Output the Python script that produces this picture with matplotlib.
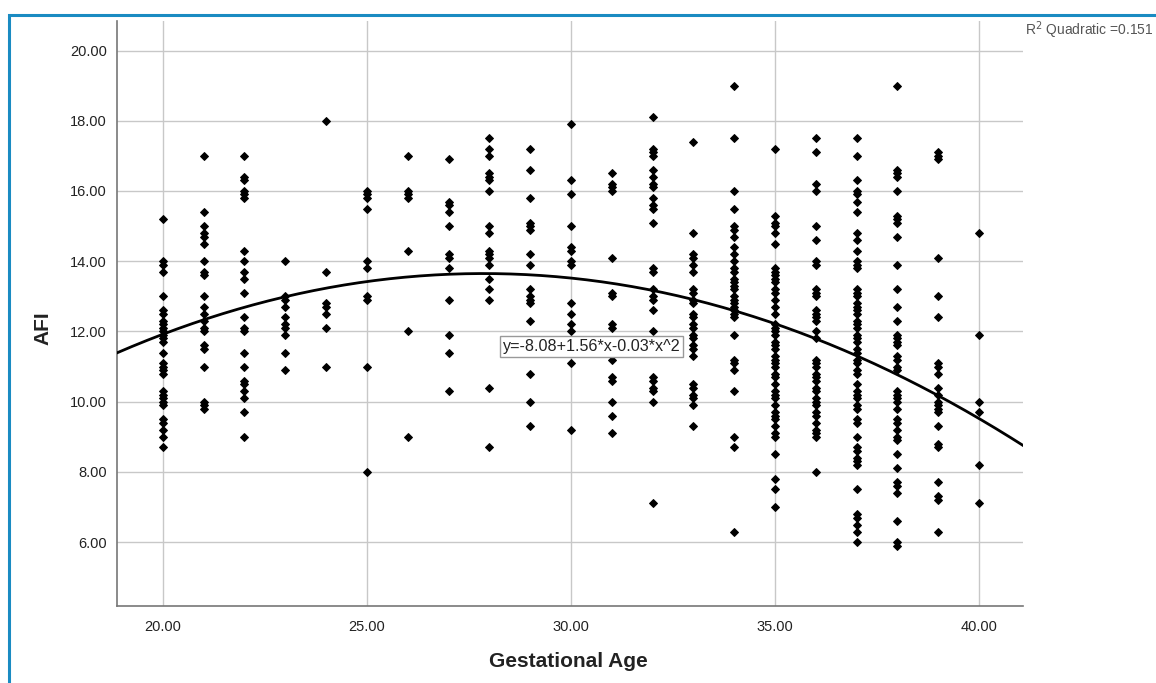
import matplotlib
matplotlib.use('Agg')
import matplotlib.pyplot as plt
import numpy as np
from matplotlib.patches import Rectangle

plt.rcParams['font.family'] = ['Liberation Sans', 'DejaVu Sans']

# AFI values per gestational age (weeks)
afi = {
    20: [15.2, 14.0, 13.9, 13.7, 13.0, 12.6, 12.5, 12.3, 12.2, 12.1, 12.0, 11.9, 11.8, 11.7, 11.4,
         11.1, 11.0, 10.9, 10.8, 10.3, 10.2, 10.1, 10.0, 9.9, 9.5, 9.4, 9.2, 9.0, 8.7],
    21: [17.0, 15.4, 15.0, 14.8, 14.7, 14.5, 14.0, 13.7, 13.6, 13.0, 12.7, 12.5, 12.3, 12.1, 12.0,
         11.6, 11.5, 11.0, 10.0, 9.9, 9.8],
    22: [17.0, 16.4, 16.3, 16.0, 15.9, 15.8, 14.3, 14.0, 13.7, 13.5, 13.1, 12.4, 12.1, 12.0, 11.4,
         11.0, 10.6, 10.5, 10.3, 10.1, 9.7, 9.0],
    23: [14.0, 13.0, 12.9, 12.7, 12.4, 12.2, 12.1, 11.9, 11.4, 10.9],
    24: [18.0, 13.7, 12.8, 12.7, 12.5, 12.1, 11.0],
    25: [16.0, 15.9, 15.8, 15.5, 14.0, 13.8, 13.0, 12.9, 11.0, 8.0],
    26: [17.0, 16.0, 15.9, 15.8, 14.3, 12.0, 9.0],
    27: [16.9, 15.7, 15.6, 15.4, 15.0, 14.2, 14.1, 13.8, 12.9, 11.9, 11.4, 10.3],
    28: [17.5, 17.2, 17.0, 16.5, 16.4, 16.3, 16.0, 15.0, 14.8, 14.3, 14.2, 14.1, 13.9, 13.5, 13.2,
         12.9, 10.4, 8.7],
    29: [17.2, 16.6, 15.8, 15.1, 15.0, 14.9, 14.2, 13.9, 13.2, 13.0, 12.9, 12.8, 12.3, 10.8, 10.0, 9.3],
    30: [17.9, 16.3, 15.9, 15.0, 14.4, 14.3, 14.0, 13.9, 12.8, 12.5, 12.2, 12.0, 11.1, 9.2],
    31: [16.5, 16.2, 16.1, 16.0, 14.1, 13.1, 13.0, 12.2, 12.1, 11.2, 10.7, 10.6, 10.0, 9.6, 9.1],
    32: [18.1, 17.2, 17.1, 17.0, 16.6, 16.4, 16.2, 16.1, 15.8, 15.6, 15.5, 15.1, 13.8, 13.7, 13.2,
         13.0, 12.9, 12.6, 12.0, 10.7, 10.6, 10.4, 10.3, 10.0, 7.1],
    33: [17.4, 14.8, 14.2, 14.1, 13.9, 13.7, 13.2, 13.1, 12.9, 12.8, 12.5, 12.4, 12.2, 12.1, 11.9,
         11.8, 11.6, 11.5, 11.3, 10.5, 10.4, 10.2, 10.1, 9.9, 9.3],
    34: [19.0, 17.5, 16.0, 15.5, 15.0, 14.9, 14.7, 14.4, 14.2, 14.0, 13.8, 13.7, 13.5, 13.4, 13.3,
         13.2, 13.0, 12.9, 12.8, 12.7, 12.6, 12.5, 12.4, 11.9, 11.2, 11.1, 10.9, 10.3, 9.0, 8.7, 6.3],
    35: [17.2, 15.3, 15.1, 15.0, 14.8, 14.5, 13.8, 13.7, 13.6, 13.5, 13.4, 13.2, 13.1, 12.9, 12.7,
         12.5, 12.2, 12.1, 12.0, 11.9, 11.7, 11.6, 11.5, 11.3, 11.2, 11.1, 11.0, 10.8, 10.7, 10.5,
         10.3, 10.2, 10.1, 9.9, 9.7, 9.6, 9.5, 9.3, 9.1, 9.0, 8.5, 7.8, 7.5, 7.0],
    36: [17.5, 17.1, 16.2, 16.0, 15.0, 14.6, 14.0, 13.9, 13.2, 13.1, 13.0, 12.6, 12.5, 12.4, 12.3,
         12.0, 11.8, 11.2, 11.1, 11.0, 10.8, 10.7, 10.6, 10.4, 10.3, 10.1, 10.0, 9.9, 9.7, 9.6,
         9.4, 9.2, 9.1, 9.0, 8.0],
    37: [17.5, 17.0, 16.3, 16.0, 15.9, 15.7, 15.4, 14.8, 14.6, 14.3, 14.0, 13.9, 13.8, 13.2, 13.1,
         13.0, 12.8, 12.7, 12.6, 12.5, 12.3, 12.2, 12.1, 11.9, 11.8, 11.7, 11.5, 11.4, 11.2, 11.1,
         10.9, 10.8, 10.5, 10.3, 10.2, 10.1, 9.9, 9.8, 9.5, 9.4, 9.0, 8.7, 8.6, 8.4, 8.3, 8.2,
         7.5, 6.8, 6.7, 6.5, 6.3, 6.0],
    38: [19.0, 16.6, 16.5, 16.4, 16.0, 15.3, 15.2, 15.1, 14.7, 13.9, 13.2, 12.7, 12.3, 11.9, 11.8,
         11.7, 11.6, 11.3, 11.2, 11.0, 10.9, 10.3, 10.2, 10.1, 10.0, 9.8, 9.5, 9.4, 9.2, 9.0, 8.9,
         8.5, 8.1, 7.7, 7.6, 7.4, 6.6, 6.0, 5.9],
    39: [17.1, 17.0, 16.9, 14.1, 13.0, 12.4, 11.1, 11.0, 10.8, 10.4, 10.2, 10.0, 9.9, 9.8, 9.7,
         9.3, 8.8, 8.7, 7.7, 7.3, 7.2, 6.3],
    40: [14.8, 11.9, 10.0, 9.7, 8.2, 7.1],
}

# quadratic fit (shown rounded in the label)
fit_coef = [-0.028, 1.56, -8.08]
fit_label = 'y=-8.08+1.56*x-0.03*x^2'
r2_text = 'R$^2$ Quadratic =0.151'

ga = np.concatenate([[k] * len(v) for k, v in afi.items()])
vals = np.concatenate([v for v in afi.values()])

fig = plt.figure(figsize=(11.56, 6.83), dpi=100)
ax = fig.add_axes([0.101, 0.1127, 0.784, 0.856])

xlim = (18.87, 41.08)
ylim = (4.18, 20.83)

ax.grid(True, color='#c8c8c8', linewidth=1.0)
ax.set_axisbelow(True)

ax.plot(ga, vals, linestyle='none', marker='D', markersize=4.2, markeredgewidth=0.7,
        color='black', zorder=3)

xs = np.linspace(xlim[0], xlim[1], 300)
ax.plot(xs, np.polyval(fit_coef, xs), color='black', linewidth=2.0, zorder=4)

ax.text(28.33, 11.58, fit_label, ha='left', va='center', fontsize=11.6,
        color='#222222', zorder=5,
        bbox=dict(boxstyle='square,pad=0.18', facecolor='white', edgecolor='#999999', linewidth=1))

ax.set_xlim(xlim)
ax.set_ylim(ylim)
ax.set_xticks([20, 25, 30, 35, 40])
ax.set_yticks(np.arange(6, 21, 2))
ax.xaxis.set_major_formatter(matplotlib.ticker.FormatStrFormatter('%.2f'))
ax.yaxis.set_major_formatter(matplotlib.ticker.FormatStrFormatter('%.2f'))
ax.tick_params(length=0, labelsize=10.5, labelcolor='#222222')
ax.tick_params(axis='x', pad=10)
ax.tick_params(axis='y', pad=7)

for s in ['top', 'right']:
    ax.spines[s].set_visible(False)
for s in ['left', 'bottom']:
    ax.spines[s].set_color('#777777')
    ax.spines[s].set_linewidth(1.2)

ax.set_xlabel('Gestational Age', fontsize=15, fontweight='bold', color='#222222')
ax.xaxis.set_label_coords((568 - 116.7) / 906.3, -(662 - 606) / 585)
ax.xaxis.label.set_va('center')
ax.set_ylabel('AFI', fontsize=15, fontweight='bold', color='#222222')
ax.yaxis.set_label_coords(-(116.7 - 43) / 906.3, (606 - 328) / 585)
ax.yaxis.label.set_va('center')

fig.text(1154 / 1156, 1 - 30 / 683, r2_text, ha='right', va='center',
         fontsize=10, color='#555555')

# blue frame around the chart (runs off the right and bottom edges)
fig.patches.append(Rectangle((9 / 1156, -0.1), 1.2, 1.1 - 15 / 683,
                             transform=fig.transFigure, fill=False,
                             edgecolor='#1a8bc2', linewidth=2.2))

plt.savefig('out.png', dpi=100)
